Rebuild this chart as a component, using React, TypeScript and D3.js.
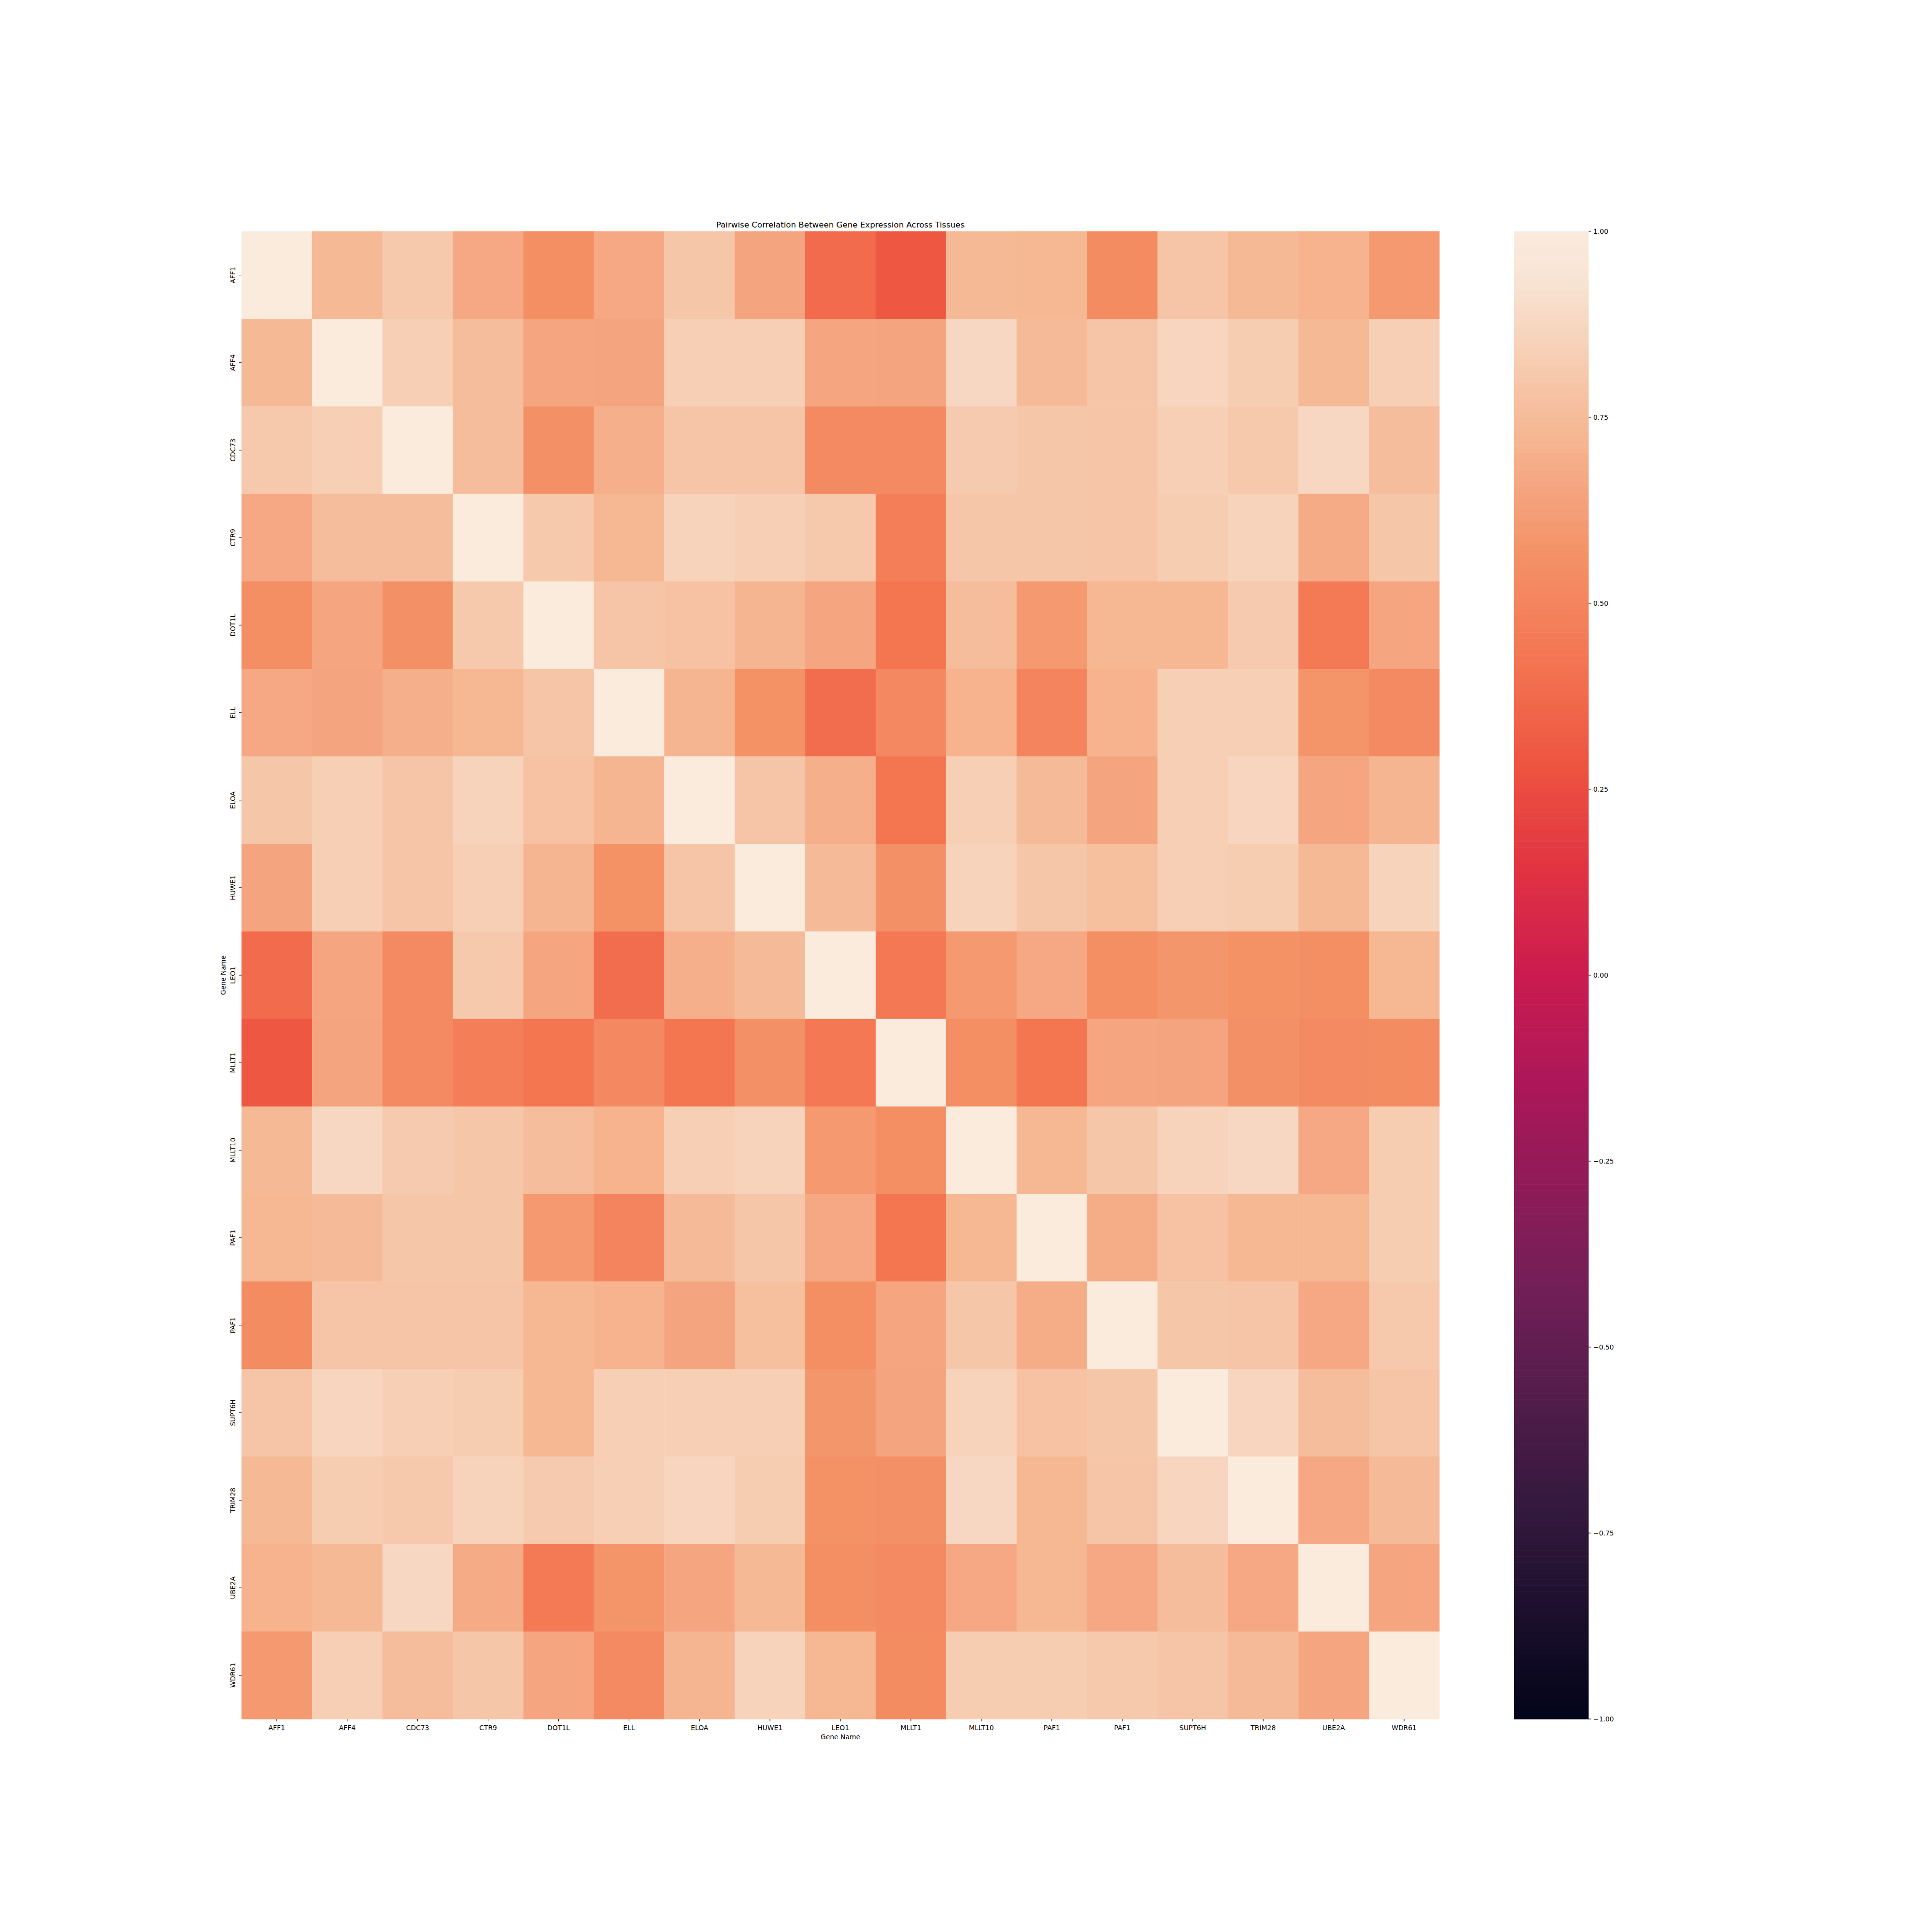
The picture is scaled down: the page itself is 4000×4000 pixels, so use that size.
import React from 'react'
import * as d3 from 'd3'

// gene labels, same order on both axes (PAF1 appears twice in the source)
const genes = ['AFF1', 'AFF4', 'CDC73', 'CTR9', 'DOT1L', 'ELL', 'ELOA', 'HUWE1', 'LEO1', 'MLLT1', 'MLLT10', 'PAF1', 'PAF1', 'SUPT6H', 'TRIM28', 'UBE2A', 'WDR61']

// pairwise correlations, one row per gene
const corr = [
  [1.00, 0.74, 0.81, 0.67, 0.55, 0.67, 0.80, 0.65, 0.38, 0.30, 0.74, 0.73, 0.54, 0.79, 0.74, 0.71, 0.60],
  [0.74, 1.00, 0.84, 0.76, 0.66, 0.65, 0.84, 0.84, 0.66, 0.65, 0.88, 0.75, 0.79, 0.87, 0.83, 0.74, 0.84],
  [0.81, 0.84, 1.00, 0.76, 0.56, 0.70, 0.79, 0.79, 0.53, 0.53, 0.82, 0.80, 0.79, 0.84, 0.81, 0.88, 0.76],
  [0.67, 0.76, 0.76, 1.00, 0.81, 0.73, 0.86, 0.84, 0.81, 0.47, 0.80, 0.80, 0.79, 0.83, 0.86, 0.68, 0.80],
  [0.55, 0.66, 0.56, 0.81, 1.00, 0.79, 0.78, 0.72, 0.66, 0.43, 0.76, 0.60, 0.73, 0.73, 0.82, 0.45, 0.66],
  [0.67, 0.65, 0.70, 0.73, 0.79, 1.00, 0.72, 0.57, 0.39, 0.52, 0.71, 0.50, 0.71, 0.84, 0.84, 0.58, 0.53],
  [0.80, 0.84, 0.79, 0.86, 0.78, 0.72, 1.00, 0.79, 0.70, 0.43, 0.84, 0.75, 0.65, 0.84, 0.87, 0.66, 0.72],
  [0.65, 0.84, 0.79, 0.84, 0.72, 0.57, 0.79, 1.00, 0.75, 0.56, 0.86, 0.80, 0.77, 0.84, 0.83, 0.74, 0.86],
  [0.38, 0.66, 0.53, 0.81, 0.66, 0.39, 0.70, 0.75, 1.00, 0.44, 0.60, 0.67, 0.55, 0.59, 0.57, 0.55, 0.73],
  [0.30, 0.65, 0.53, 0.47, 0.43, 0.52, 0.43, 0.56, 0.44, 1.00, 0.55, 0.43, 0.66, 0.65, 0.56, 0.53, 0.54],
  [0.74, 0.88, 0.82, 0.80, 0.76, 0.71, 0.84, 0.86, 0.60, 0.55, 1.00, 0.73, 0.80, 0.86, 0.88, 0.67, 0.83],
  [0.73, 0.75, 0.80, 0.80, 0.60, 0.50, 0.75, 0.80, 0.67, 0.43, 0.73, 1.00, 0.69, 0.78, 0.73, 0.73, 0.83],
  [0.54, 0.79, 0.79, 0.79, 0.73, 0.71, 0.65, 0.77, 0.55, 0.66, 0.80, 0.69, 1.00, 0.80, 0.79, 0.67, 0.81],
  [0.79, 0.87, 0.84, 0.83, 0.73, 0.84, 0.84, 0.84, 0.59, 0.65, 0.86, 0.78, 0.80, 1.00, 0.87, 0.76, 0.79],
  [0.74, 0.83, 0.81, 0.86, 0.82, 0.84, 0.87, 0.83, 0.57, 0.56, 0.88, 0.73, 0.79, 0.87, 1.00, 0.67, 0.75],
  [0.71, 0.74, 0.88, 0.68, 0.45, 0.58, 0.66, 0.74, 0.55, 0.53, 0.67, 0.73, 0.67, 0.76, 0.67, 1.00, 0.66],
  [0.60, 0.84, 0.76, 0.80, 0.66, 0.53, 0.72, 0.86, 0.73, 0.54, 0.83, 0.83, 0.81, 0.79, 0.75, 0.66, 1.00],
]

const colorbarTicks = [1, 0.75, 0.5, 0.25, 0, -0.25, -0.5, -0.75, -1]

// approximation of seaborn's "rocket" colormap over the value range
const rocketStops = [-1, -0.714, -0.429, -0.143, 0, 0.143, 0.28, 0.35, 0.43, 0.5, 0.57, 0.62, 0.69, 0.714, 0.75, 0.79, 0.86, 0.93, 1]
const rocketColors = ['#03051a', '#35193e', '#701f57', '#ad1759', '#cb1b4f', '#e13342', '#ed5340', '#f06449', '#f37651', '#f4845d', '#f49266', '#f49d76', '#f5ad88', '#f6b48f', '#f5bb98', '#f6c4a6', '#f7d3bb', '#f8e2d2', '#faebdd']

const font = 'DejaVu Sans, sans-serif'

export default function App() {
  const W = 4000
  const H = 4000
  const left = 500
  const right = 2980
  const top = 479
  const bottom = 3559
  const cbLeft = 3135
  const cbRight = 3289

  const color = d3.scaleLinear<string>()
    .domain(rocketStops)
    .range(rocketColors)
    .interpolate(d3.interpolateRgb)
    .clamp(true)

  const idx = genes.map((_, i) => i)
  const x = d3.scaleBand<number>().domain(idx).range([left, right])
  const y = d3.scaleBand<number>().domain(idx).range([top, bottom])
  const cy = d3.scaleLinear().domain([-1, 1]).range([bottom, top])
  const fmt = d3.format('.2f')

  const steps = d3.range(256).map(i => -1 + (2 * i) / 255)
  const stepH = (bottom - top) / 256

  return (
    <svg width={W} height={H} style={{ position: 'absolute', left: 0, top: 0, background: '#fff' }} fontFamily={font}>
      <rect width={W} height={H} fill="#fff" />
      {/* cells */}
      {corr.map((row, r) =>
        row.map((v, c) => (
          <rect key={`${r}-${c}`} x={x(c)} y={y(r)} width={x.bandwidth() + 0.5} height={y.bandwidth() + 0.5} fill={color(v)} />
        ))
      )}

      {/* title */}
      <text x={(left + right) / 2} y={471} textAnchor="middle" fontSize={16.67}>
        Pairwise Correlation Between Gene Expression Across Tissues
      </text>

      {/* x axis */}
      {idx.map(i => {
        const cx = x(i)! + x.bandwidth() / 2
        return (
          <g key={`xt${i}`}>
            <line x1={cx} x2={cx} y1={bottom} y2={bottom + 4.9} stroke="#000" strokeWidth={1.1} />
            <text x={cx} y={bottom + 23} textAnchor="middle" fontSize={13.9}>{genes[i]}</text>
          </g>
        )
      })}
      <text x={(left + right) / 2} y={3601} textAnchor="middle" fontSize={13.9}>Gene Name</text>

      {/* y axis */}
      {idx.map(i => {
        const yc = y(i)! + y.bandwidth() / 2
        return (
          <g key={`yt${i}`}>
            <line x1={left - 4.9} x2={left} y1={yc} y2={yc} stroke="#000" strokeWidth={1.1} />
            <text transform={`translate(${left - 13},${yc}) rotate(-90)`} textAnchor="middle" fontSize={13.9}>{genes[i]}</text>
          </g>
        )
      })}
      <text transform={`translate(467,${(top + bottom) / 2}) rotate(-90)`} textAnchor="middle" fontSize={13.9}>Gene Name</text>

      {/* colorbar */}
      {steps.map((v, i) => (
        <rect key={`cb${i}`} x={cbLeft} y={bottom - (i + 1) * stepH} width={cbRight - cbLeft} height={stepH + 0.6} fill={color(v)} />
      ))}
      {colorbarTicks.map(t => (
        <g key={`ct${t}`}>
          <line x1={cbRight} x2={cbRight + 4.9} y1={cy(t)} y2={cy(t)} stroke="#000" strokeWidth={1.1} />
          <text x={cbRight + 9.8} y={cy(t)} dy="0.36em" fontSize={13.9}>{fmt(t)}</text>
        </g>
      ))}
    </svg>
  )
}
